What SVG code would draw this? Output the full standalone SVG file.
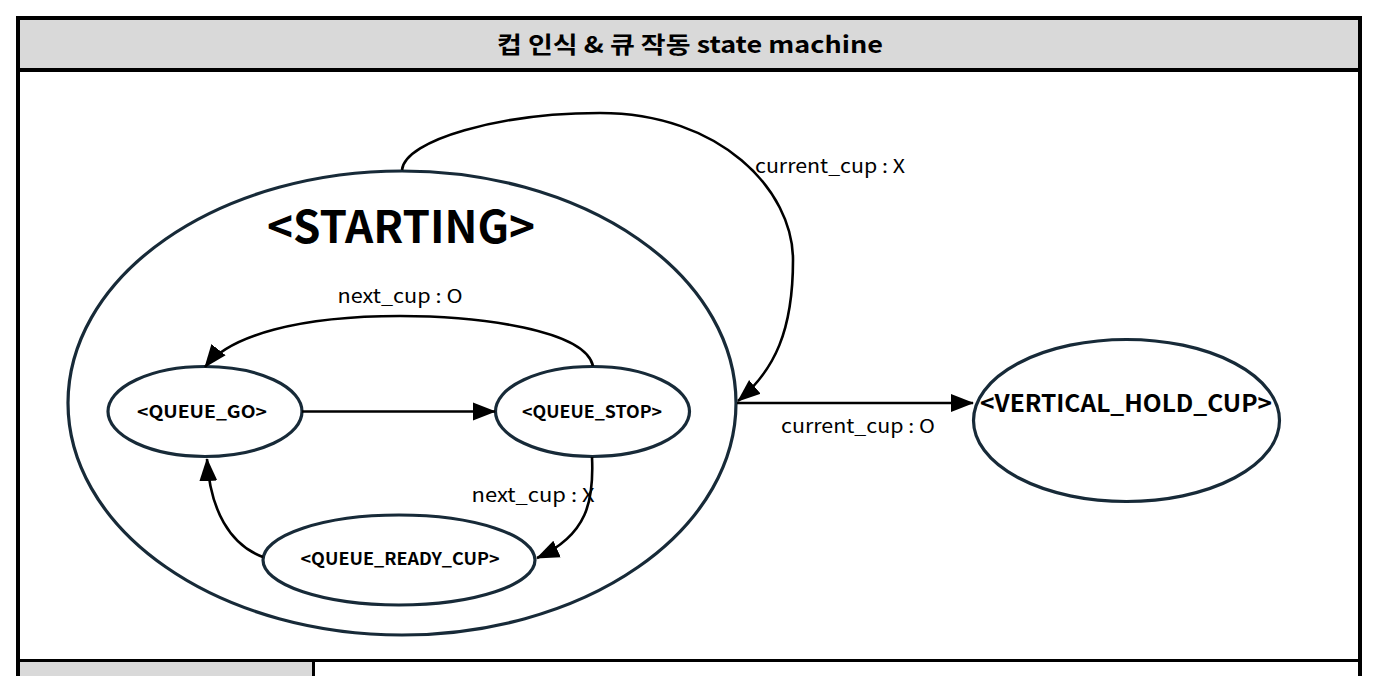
<svg xmlns="http://www.w3.org/2000/svg" width="1380" height="676" viewBox="0 0 1380 676">
<style>
.frame{fill:none;stroke:#000;stroke-width:4}
.line{stroke:#000;stroke-width:3}
.state{fill:#fff;stroke:#172a38;stroke-width:3.2}
.conn{fill:none;stroke:#000;stroke-width:2.6}
.t{font-family:"Noto Sans CJK KR","Noto Sans",sans-serif;fill:#000}
.b{font-weight:bold}
.lbl{font-size:19px}
.st{font-size:17px;font-weight:bold}
</style>
<defs>
<marker id="arr" markerUnits="userSpaceOnUse" markerWidth="24" markerHeight="20" viewBox="0 0 24 20" refX="22" refY="10" orient="auto">
<path d="M0,1 L23,10 L0,19 Z" fill="#000"/>
</marker>
</defs>
<rect width="1380" height="676" fill="#fff"/>
<g id="frame">
<rect x="18" y="18" width="1342" height="52" fill="#d9d9d9"/>
<rect x="18" y="660" width="295" height="20" fill="#d9d9d9"/>
<path class="frame" d="M18,680 L18,18 L1360,18 L1360,680"/>
<path class="frame" d="M18,70 L1360,70"/>
<path class="line" d="M18,660.5 L1360,660.5"/>
<path class="line" d="M313.5,660 L313.5,680"/>
<text class="t b" x="690" y="53" font-size="23" text-anchor="middle" textLength="386" lengthAdjust="spacingAndGlyphs">컵 인식 &amp; 큐 작동 state machine</text>
</g>
<g id="STARTING">
<ellipse class="state" cx="402" cy="403" rx="334" ry="232"/>
<text class="t b" x="401" y="243" font-size="45" text-anchor="middle" textLength="268" lengthAdjust="spacingAndGlyphs">&lt;STARTING&gt;</text>
</g>
<g id="QUEUE_GO">
<ellipse class="state" cx="205" cy="411.5" rx="97" ry="45"/>
<text class="t st" x="202" y="418" text-anchor="middle" textLength="130" lengthAdjust="spacingAndGlyphs">&lt;QUEUE_GO&gt;</text>
</g>
<g id="QUEUE_STOP">
<ellipse class="state" cx="592.5" cy="411.5" rx="97" ry="45"/>
<text class="t st" x="592" y="418" text-anchor="middle" textLength="140" lengthAdjust="spacingAndGlyphs">&lt;QUEUE_STOP&gt;</text>
</g>
<g id="QUEUE_READY_CUP">
<ellipse class="state" cx="399" cy="560" rx="136" ry="45"/>
<text class="t st" x="400" y="565" text-anchor="middle" textLength="199" lengthAdjust="spacingAndGlyphs">&lt;QUEUE_READY_CUP&gt;</text>
</g>
<g id="VERTICAL_HOLD_CUP">
<ellipse class="state" cx="1126.5" cy="420.5" rx="153" ry="81"/>
<text class="t b" x="1126" y="412" font-size="24" text-anchor="middle" textLength="292" lengthAdjust="spacingAndGlyphs">&lt;VERTICAL_HOLD_CUP&gt;</text>
</g>
<g id="connectors">
<path class="conn" d="M302,411.5 L495,411.5" marker-end="url(#arr)"/>
<path class="conn" d="M593,366 C585,330 480,316 400,316 C300,316 230,335 205,367" marker-end="url(#arr)"/>
<path class="conn" d="M592,457 C594,500 588,535 537,558" marker-end="url(#arr)"/>
<path class="conn" d="M263,557 C230,545 210,510 207,459" marker-end="url(#arr)"/>
<path class="conn" d="M402,170 C405,140 500,113 600,113 C720,113 793,190 793,260 C793,330 775,370 738,401" marker-end="url(#arr)"/>
<path class="conn" d="M737,403 L973,403" marker-end="url(#arr)"/>
<text class="t lbl" x="400" y="303" text-anchor="middle" textLength="125" lengthAdjust="spacingAndGlyphs">next_cup : O</text>
<text class="t lbl" x="533" y="502" text-anchor="middle" textLength="123" lengthAdjust="spacingAndGlyphs">next_cup : X</text>
<text class="t lbl" x="830" y="173" text-anchor="middle" textLength="150" lengthAdjust="spacingAndGlyphs">current_cup : X</text>
<text class="t lbl" x="858" y="433" text-anchor="middle" textLength="154" lengthAdjust="spacingAndGlyphs">current_cup : O</text>
</g>
</svg>
